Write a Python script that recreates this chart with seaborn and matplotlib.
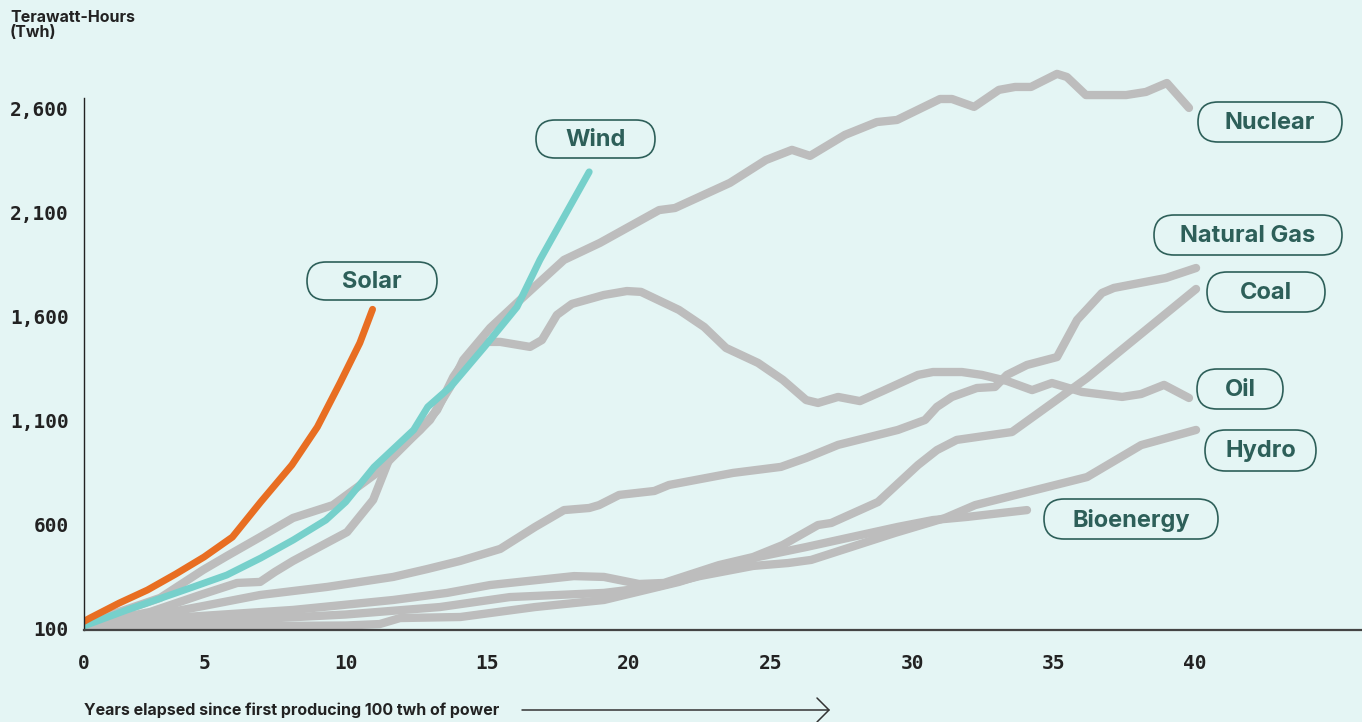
"""
Years since first producing 100 TWh - growth of power sources.
"""

import matplotlib
matplotlib.use("Agg")
import matplotlib.pyplot as plt
import matplotlib.transforms as mtransforms
from matplotlib.patches import FancyBboxPatch
from matplotlib.lines import Line2D
import seaborn as sns

# -- Data (years elapsed, TWh) ----------------------------------------------
solar_years = [0.76, 1, 2, 3, 4, 5, 6, 7, 8.1, 9, 9.8, 10.5, 10.95]
solar_twh = [132, 150, 220, 283, 360, 442, 538, 707, 885, 1068, 1280, 1473, 1635]

wind_years = [0.76, 2.28, 4.6, 5.8, 7.0, 8.15, 9.3, 10.0, 11.0, 12.4, 12.9, 13.7,
              14.9, 16.05, 16.86, 18.6]
wind_twh = [110, 187, 297, 355, 437, 524, 620, 707, 875, 1054, 1165, 1261,
            1454, 1646, 1873, 2297]

nuclear_years = [0.76, 3.45, 4.97, 5.81, 6.98, 8.14, 9.55, 11.1, 12.27, 12.98, 13.69,
                 14.15, 15.1, 16.16, 17.71, 18.98, 21.07, 21.63, 23.57, 24.84, 25.76,
                 26.4, 27.63, 28.76, 29.47, 30.99, 31.41, 32.19, 33.07, 33.64, 34.2,
                 35.12, 35.47, 36.14, 37.56, 38.26, 39.0, 39.78]
nuclear_twh = [120, 245, 380, 447, 538, 630, 692, 847, 1006, 1102, 1261,
               1391, 1545, 1680, 1873, 1955, 2113, 2123, 2244, 2354, 2403,
               2374, 2475, 2537, 2547, 2648, 2648, 2610, 2692, 2706, 2706,
               2769, 2754, 2667, 2667, 2682, 2725, 2605]

oil_years = [0.76, 3.09, 4.86, 6.17, 6.98, 7.5, 8.14, 10.05, 10.97, 11.57, 12.63, 13.23,
             13.8, 14.29, 15.0, 15.46, 16.51, 16.93, 17.46, 17.99, 19.12, 19.93, 20.43,
             21.77, 22.66, 23.43, 24.56, 25.44, 26.26, 26.68, 27.39, 28.16, 28.97,
             30.21, 30.74, 31.76, 32.47, 33.35, 34.24, 34.94, 36.0, 37.42, 38.09,
             38.9, 39.78]
oil_twh = [114, 177, 259, 317, 322, 370, 423, 562, 717, 924, 1054, 1150,
           1309, 1405, 1478, 1478, 1454, 1487, 1608, 1661, 1704, 1723, 1719,
           1632, 1550, 1449, 1377, 1295, 1198, 1184, 1213, 1193, 1242,
           1319, 1333, 1333, 1319, 1290, 1246, 1280, 1237, 1213, 1227,
           1271, 1208]

gas_years = [0.76, 3.45, 4.97, 6.98, 9.35, 11.68, 12.88, 14.04, 15.46, 16.69, 17.71,
             18.6, 18.95, 19.66, 20.9, 21.42, 23.68, 25.37, 26.26, 27.39, 29.5,
             30.46, 30.88, 31.41, 32.29, 32.93, 33.35, 34.06, 35.12, 35.83, 36.71,
             37.13, 38.97, 40.03]
gas_twh = [114, 167, 206, 259, 298, 346, 384, 423, 481, 587, 668,
           678, 692, 741, 760, 789, 847, 876, 919, 982, 1054,
           1102, 1165, 1213, 1256, 1261, 1319, 1367, 1405, 1584, 1714,
           1738, 1786, 1834]

coal_years = [0.76, 4.0, 8.14, 11.68, 13.58, 15.1, 18.06, 19.12, 20.36, 21.24, 23.18,
              24.39, 25.44, 26.68, 27.15, 28.8, 30.21, 30.88, 31.58, 33.53, 36.18,
              40.03]
coal_twh = [112, 150, 187, 235, 269, 307, 350, 346, 312, 317, 403,
            442, 500, 596, 606, 707, 885, 957, 1006, 1044, 1304,
            1733]

hydro_years = [0.76, 5, 10, 13.33, 15.8, 19.12, 21.0, 22.5, 24.39, 25.63, 26.44,
               29.4, 31.17, 32.23, 36.18, 38.09, 40.03]
hydro_twh = [108, 130, 165, 201, 249, 269, 300, 350, 399, 413, 428,
             558, 630, 692, 827, 981, 1054]

bio_years = [0.76, 5, 10, 11.2, 11.92, 14.05, 16.69, 19.12, 21.77, 24.56, 26.26,
             29.5, 30.74, 31.94, 34.06]
bio_twh = [104, 108, 112, 119, 148, 153, 201, 235, 322, 442, 490,
           587, 620, 635, 668]

y_ticks = [100, 600, 1100, 1600, 2100, 2600]
y_tick_labels = ["100", "600", "1,100", "1,600", "2,100", "2,600"]
x_ticks = [5, 10, 15, 20, 25, 30, 35, 40]

# -- Style ------------------------------------------------------------------
BG = "#E4F5F4"
GRAY = "#BDBDBD"
ORANGE = "#E86E22"
TEAL = "#76D0CB"
LABEL = "#2D5F59"
INK = "#222222"

sns.set_theme(style="white")
plt.rcParams["font.family"] = ["Inter", "DejaVu Sans"]

W, H = 1362, 722
fig = plt.figure(figsize=(W / 100, H / 100), dpi=100, facecolor=BG)
ax = fig.add_axes([84 / W, 92 / H, (W - 84) / W, 580 / H])
ax.set_facecolor(BG)

# pixel transform (origin bottom-left) for annotations
px = mtransforms.Affine2D().scale(1 / W, 1 / H) + fig.transFigure

line_kw = dict(estimator=None, sort=False, ax=ax, solid_capstyle="round",
               solid_joinstyle="round", legend=False)

for xs, ys in [(bio_years, bio_twh), (hydro_years, hydro_twh), (coal_years, coal_twh),
               (gas_years, gas_twh), (oil_years, oil_twh), (nuclear_years, nuclear_twh)]:
    sns.lineplot(x=xs, y=ys, color=GRAY, linewidth=6.0, **line_kw)

sns.lineplot(x=wind_years, y=wind_twh, color=TEAL, linewidth=5.0, **line_kw)
sns.lineplot(x=solar_years, y=solar_twh, color=ORANGE, linewidth=5.0, **line_kw)

ax.set_xlim(0.76, 45.89)
ax.set_ylim(90.4, 2884)

# axes styling
for side in ["top", "right"]:
    ax.spines[side].set_visible(False)
ax.spines["left"].set_color(INK)
ax.spines["left"].set_linewidth(1.0)
ax.spines["left"].set_bounds(90.4, 2653)
ax.spines["bottom"].set_color("#444444")
ax.spines["bottom"].set_linewidth(1.6)

ax.set_yticks(y_ticks)
ax.set_yticklabels(y_tick_labels)
ax.set_xticks([0.76] + x_ticks)
ax.set_xticklabels(["0"] + [str(t) for t in x_ticks])
ax.tick_params(axis="both", length=0, labelsize=14, labelcolor=INK)
ax.tick_params(axis="y", pad=11)
ax.tick_params(axis="x", pad=17)
for lab in ax.get_xticklabels() + ax.get_yticklabels():
    lab.set_fontfamily("DejaVu Sans Mono")
    lab.set_fontweight("bold")
ax.set_xlabel("")
ax.set_ylabel("")
ax.grid(False)

# -- Series labels (rounded pills) ----------------------------------------
# name, left px, top px, width px, height px
pills = [
    ("Wind", 536, 120, 119, 38),
    ("Solar", 307, 262, 130, 38),
    ("Nuclear", 1198, 102, 144, 40),
    ("Natural Gas", 1154, 215, 188, 40),
    ("Coal", 1207, 272, 118, 40),
    ("Oil", 1197, 369, 86, 40),
    ("Hydro", 1205, 430, 111, 41),
    ("Bioenergy", 1044, 499, 174, 40),
]
for name, left, top, w, h in pills:
    y0 = H - top - h
    box = FancyBboxPatch((left, y0), w, h,
                         boxstyle=f"round,pad=0,rounding_size={h / 2}",
                         transform=px, facecolor=BG, edgecolor=LABEL,
                         linewidth=1.2, clip_on=False)
    fig.add_artist(box)
    fig.text(left + w / 2, y0 + h / 2 - 1, name, transform=px, ha="center",
             va="center", fontsize=17, fontweight="bold", color=LABEL)

# -- Titles ---------------------------------------------------------------
fig.text(10, H - 10, "Terawatt-Hours\n(Twh)", transform=px, ha="left", va="top",
         fontsize=11.5, fontweight="bold", color=INK, linespacing=1.0)
fig.text(84, H - 710, "Years elapsed since first producing 100 twh of power",
         transform=px, ha="left", va="center", fontsize=11.5, fontweight="bold",
         color=INK)

# arrow after x label
arrow_y = H - 710
fig.add_artist(Line2D([522, 829], [arrow_y, arrow_y], transform=px,
                      color="#333333", linewidth=1.1))
fig.add_artist(Line2D([817, 829, 817], [arrow_y + 12, arrow_y, arrow_y - 12],
                      transform=px, color="#333333", linewidth=1.1))

fig.savefig("out.png", dpi=100, facecolor=BG)
